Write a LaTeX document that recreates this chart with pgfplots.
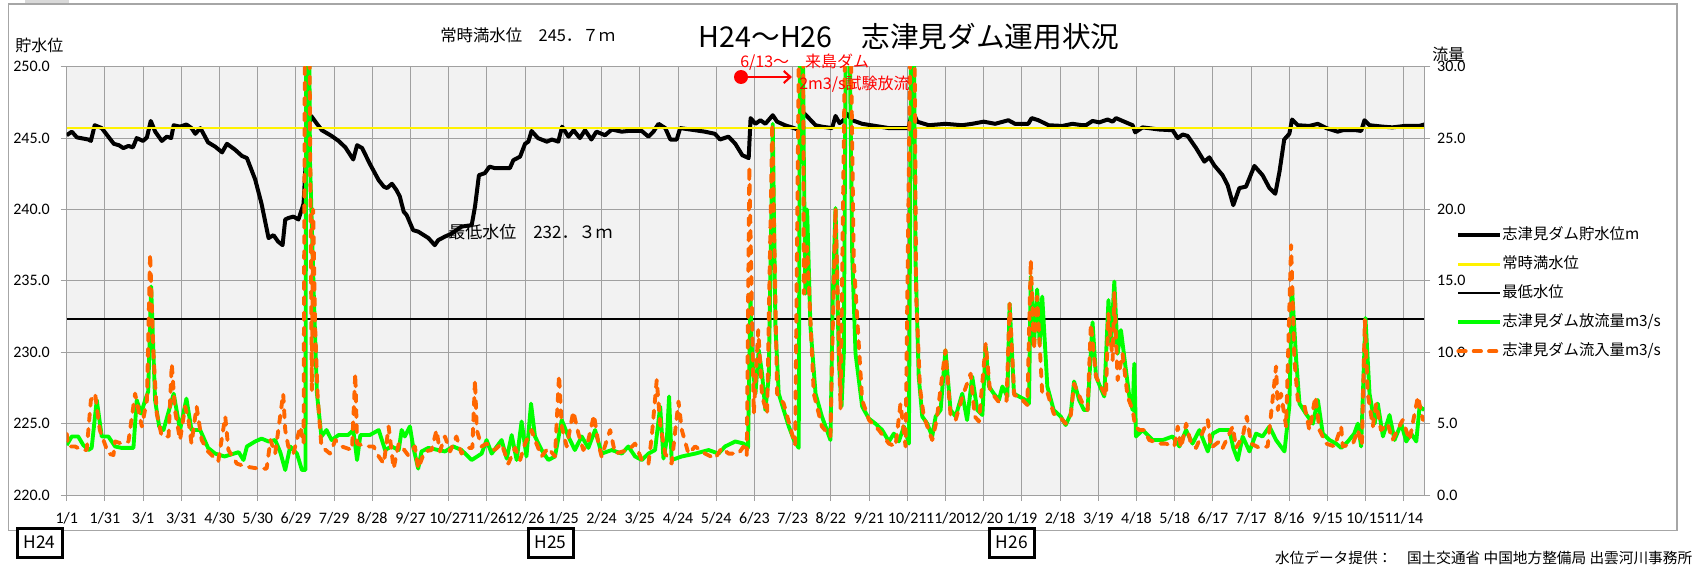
\documentclass[border=0pt]{standalone}
\usepackage{fontspec}
\setmainfont{Carlito}
\newfontfamily\jp{Noto Sans CJK JP}
\usepackage{pgfplots}
\usepackage{pgfplotstable}
\pgfplotsset{compat=1.18}
\usetikzlibrary{arrows.meta}
\definecolor{bgGray}{HTML}{F2F2F2}
\definecolor{gridGray}{HTML}{A0A0A0}
\definecolor{flowGreen}{HTML}{00FF00}
\definecolor{flowOrange}{HTML}{FF6600}
\definecolor{frameGray}{HTML}{A6A6A6}

\pgfplotstableread{
d v
0 245.2
4 245.45
8 245.05
17 244.9
19 244.8
22 245.9
27.5 245.7
37 244.6
41 244.5
44.5 244.3
48.5 244.45
52 244.35
55 245.0
60 244.8
63 245.05
66 246.2
69.5 245.45
74.7 244.8
78.6 245.1
82 245.0
84 245.9
89 245.8
94 245.95
98 245.7
101 245.3
105 245.7
111 244.7
116.6 244.4
122 244.0
125.8 244.6
132 244.2
137.6 243.75
141.5 243.6
148 242.1
153 240.4
158.5 238.0
162.4 238.2
166 237.75
169.5 237.5
171.6 239.3
174 239.4
178 239.5
182 239.3
186 240.4
187.8 243.5
190 245.8
192 246.55
196.5 246.0
200.4 245.55
208 245.15
213.5 244.8
218.8 244.35
225 243.5
228 244.5
232 244.3
238 243.2
245 242.05
249 241.6
251.5 241.5
255.4 241.8
259 241.35
261.6 240.9
264.6 239.85
267 239.6
272 238.55
276 238.45
284 238.0
289 237.5
291.7 237.85
297 238.1
302 238.3
310 238.8
318 238.9
320.6 240.2
323.7 242.4
328.4 242.55
332 243.0
336 242.9
348 242.9
350.7 243.45
356 243.7
359.9 244.6
362.5 244.75
365 245.5
370 245.0
377 244.75
381 244.9
386 244.75
389 245.8
394 245.1
398 245.55
403 245.0
407 245.55
412 244.9
416 245.45
422.7 245.2
428 245.6
435.8 245.45
441 245.5
451.5 245.5
456.8 245.1
460.7 245.45
464.7 246.0
470 245.7
474 244.9
479 244.9
481.7 245.7
493.5 245.55
501 245.45
509 245.3
513 244.9
519.7 245.1
525 244.6
530.5 243.8
535.5 243.6
537 246.4
540.8 246.0
544.7 246.25
548.6 246.0
551 246.25
554.4 246.6
557.8 246.15
564 245.9
571 245.7
575.4 245.55
578.8 246.75
582.7 246.4
588 245.9
593 245.8
601 245.7
603.7 246.55
606.8 246.05
610 246.25
612.8 246.7
616.8 246.25
624.6 246.0
635 245.85
645.6 245.7
656 245.7
661 245.7
664 246.95
667.8 246.15
677 245.9
690 246.0
703 245.9
711 246.0
720 246.15
729 246.0
739.4 246.25
744.6 246.0
755 246.0
757.7 246.4
763 246.25
771 245.9
781.8 245.85
789.7 246.0
797.5 245.9
800.3 245.9
805.5 246.2
810.8 246.1
817.3 246.3
821.3 246.15
823.9 246.4
830.4 246.15
837 245.9
839 245.4
844.8 245.75
858 245.6
868.4 245.55
872.4 245.0
876.3 245.25
880.2 245.15
886.8 244.3
893.3 243.35
897.2 243.65
901 243.1
907.6 242.4
911.6 241.7
916 240.3
920.8 241.5
926 241.6
932.6 243.05
939 242.4
944.4 241.5
949 241.1
952.3 242.65
956 244.9
960 245.3
962.2 246.3
966.7 245.9
975.8 245.85
982.4 246.0
989 245.7
998 245.45
1002 245.55
1012.5 245.55
1016.4 245.5
1019 246.25
1023 245.9
1033.5 245.8
1041 245.75
1050.5 245.85
1062 245.85
1066 245.95
}\levtab

\pgfplotstableread{
d v
0 3.5
4 4.1
9 4.1
13 3.5
17 3.15
19.6 3.3
23.6 6.65
27.5 4.1
32.7 4.1
38 3.4
43 3.3
52.4 3.3
55 6.65
58.4 5.7
61.6 6.65
64 7.25
66.3 14.6
69.4 6.65
72.6 4.8
76 4.55
84 7.1
89 4.55
94 6.75
98 4.55
104.8 4.55
111 3.3
116.6 2.9
124 2.7
135 3.0
138.8 2.45
141.5 3.4
148 3.75
153 3.95
158.5 3.75
163.7 3.85
167.7 3.0
171.6 1.75
175.5 3.4
180.8 2.9
184.7 1.75
187.5 1.75
188.2 40
190 40
191 23.5
194 14.1
196.5 7.1
200 4.1
204 4.55
208 3.85
213.5 4.2
221 4.2
225 4.55
228 2.45
230.6 4.2
238 4.2
245 4.55
250 3.15
255 3.4
260.7 3.15
263 4.55
265.5 4.1
269.5 4.8
272 3.4
276 1.85
278.6 3.05
284 3.3
297 3.05
303.5 3.4
310 3.15
318 2.45
325.8 2.9
329.7 3.85
333.7 2.9
341.5 3.85
345.5 2.55
349.4 4.2
353.3 2.45
357.2 5.15
361 2.7
364.6 6.4
367.7 4.1
372.9 3.15
378.2 2.45
383.4 2.7
388.7 5.25
393.9 4.1
399 3.15
404.4 4.1
409.6 3.3
414.9 4.55
420 2.9
428 3.15
435.8 2.9
441 3.4
446.3 2.7
451.6 2.45
456.8 2.9
462 3.15
466 6.2
468.6 2.55
471.2 3.85
473 6.9
475 2.45
483 2.7
493.5 2.9
504 3.15
511.8 2.9
517 3.4
525 3.75
531.6 3.6
535 3.3
536.9 14.1
538.2 9.45
540.8 7.1
543.4 10.15
546 8.5
548.6 5.95
551.3 8.3
554.4 26
556.5 11.8
559.1 7.1
563 5.95
567 4.8
571 3.85
574.8 3.3
576 40
577.5 38
578.8 23.5
580 14.1
581.4 20
584 11.8
588 7.1
593 5.5
599.7 3.85
601.6 14.1
603.7 20.1
606.3 9.45
608.4 6.2
610.2 9.9
612.3 40
614 38
616.8 16.7
619.4 9.9
624.6 6.2
629.9 5.35
635 5.0
640.3 4.55
645.6 3.75
649.5 4.3
653.4 3.75
657.4 4.8
661.3 3.6
663.5 40
665 35
666.5 16.4
669 8.3
671.8 5.5
675.7 5.0
679.6 4.1
682.3 5.5
686.2 5.95
690 10.15
694 5.95
698 5.5
703.2 7.1
707 5.25
711 8.3
715 5.95
719 5.6
721.6 10.4
724.2 7.6
728 7.1
732 6.65
734.7 7.6
738.6 6.9
740.4 13.4
743.8 7.1
747.8 6.9
753 6.65
755.6 6.4
757 15.3
759.5 10.6
762 14.4
764 10.6
766 13.9
770 7.6
775 5.95
780.5 5.5
784.4 4.9
788.4 5.7
791 7.95
795 6.65
798.8 5.95
801.6 5.95
805.5 12.1
808.2 8.3
812.1 7.45
814.7 6.9
818 13.65
820 10.6
822.6 14.95
825.2 9.9
827.8 11.55
831.7 8.75
834.4 6.9
837 5.95
838.3 9.2
839.6 4.1
844.8 4.55
852.7 3.85
860.6 3.85
868.4 4.1
873.7 3.4
878.9 4.55
884 3.6
889.4 4.55
896 3.05
899.9 4.3
905 4.55
913 4.55
916 3.3
919.5 2.45
923.4 4.1
928.7 3.05
933.9 4.3
939 4.1
944.4 4.8
949.6 3.85
956.2 3.05
960 6.2
962.2 14.35
965.4 9.45
968 6.4
973 5.7
978.5 5.0
982.4 6.65
986.3 4.3
991.6 3.85
996.8 3.6
1000.7 3.3
1006 3.75
1011 4.3
1013.8 5.0
1016.4 3.4
1019.8 12.4
1023 7.1
1027 5.0
1029.5 6.4
1033.5 4.1
1038.7 5.6
1042.6 3.85
1047.9 5.0
1051.8 3.75
1055.7 4.3
1059.7 3.75
1062.3 6.2
1066 5.95
}\outtab

\pgfplotstableread{
d v
0 4.3
1.3 3.4
6.5 3.4
11.8 3.15
15.7 3.15
19 6.65
22.3 7.1
26 4.55
32.7 2.9
36.7 2.8
38 3.75
43 3.6
48.5 3.75
53.7 7.1
59 4.8
63 6.65
65.5 16.9
68 10.15
70.7 5.7
74.7 4.1
80 4.1
82.5 9.2
85 5.95
89 3.85
93 6.2
95.6 5.25
98 3.6
102 6.2
106 3.85
111 3.05
119 2.35
124.5 5.5
127 3.15
133.6 2.2
140 2.0
150.6 1.85
157 1.85
160 3.85
163.7 2.9
170 7.1
171.6 4.55
174 3.4
178 2.9
183.4 4.8
186 3.6
187.3 40
190 40
191.5 20
192.5 7.35
193.5 20
195 12
197 7
200 3.4
206.7 2.9
211 3.85
216 3.4
224 3.15
226.6 8.5
228 3.6
234.5 3.4
241 3.4
245 2.7
249 2.2
252.8 4.8
256.7 1.85
260.7 3.6
263 3.4
268 2.8
273.4 3.4
276 1.85
281 3.05
286.5 3.15
290.4 4.55
293 3.05
297 4.1
301 3.05
306 4.1
310 2.9
314 3.3
318.5 3.3
320.6 8.05
322 4.55
325.8 3.4
329.7 3.6
336 3.15
341.5 3.6
346.8 2.2
352 3.3
356 2.45
359.9 3.6
365 4.55
367.7 3.85
372.9 2.7
378 3.3
383.4 2.7
386.6 8.4
388.7 4.8
392.6 3.4
397.8 5.85
401.8 4.3
405.7 3.15
409.6 3.85
414 5.6
417.5 3.6
420 2.7
426.7 4.55
430.6 2.9
441 3.15
446.3 3.6
451.6 2.45
456.8 2.2
459.4 4.1
463.3 8.05
466 5.0
469.9 2.9
475 2.2
480.4 6.55
483 4.55
488.2 2.9
493.5 3.4
501.3 2.9
509 2.55
514.4 3.3
519.7 2.9
527.5 2.9
531.5 3.4
534 2.8
536 23
539.5 5.7
543 11.55
546 6.9
550 5.7
554 26
557.8 7.1
563 6.4
572 3.5
575.8 40
578 40
578.8 14.1
581.4 17.4
586.6 7.1
593 4.8
599.7 4.1
601.6 12
603.7 20.1
607.6 6.05
612.3 40
614.5 40
618 16.4
624.6 6.65
630 5.25
637.7 4.55
645.6 3.6
650.8 3.4
654.7 6.4
658.7 3.4
663.5 40
665.2 40
667 14
670 7.5
673 5.5
679.6 3.85
683 5.2
690 10.15
694 5.6
698 5.25
703 6.8
709.8 8.5
713 5.5
716.3 5.15
721.6 10.6
725 7.3
732 6.5
738 6.6
740.4 13.4
744 7.0
747.8 6.9
754.3 6.3
757 16.45
759.5 10.15
762 13.9
766 7.1
770 7.2
775 5.7
780.5 5.4
784.4 5.0
788.4 5.6
791 7.8
797.7 6.4
801.6 5.95
804.2 12.0
808.2 8.3
812.1 7.6
816 6.9
817.9 12.7
821.3 9.45
822.6 14.2
825.2 8.05
829.1 9.9
833 6.9
837 5.95
839 4.8
842.2 4.55
846 4.55
850 3.85
858 3.6
863 3.6
869.7 3.4
872.4 4.8
875 3.3
879 5.0
882.8 3.6
886.8 3.3
896 5.25
898.5 3.3
905 3.75
907.7 3.3
915.6 4.8
918.2 3.3
923.4 4.1
926.6 5.5
930 3.6
936.5 3.3
943 3.4
949.6 9.0
951 5.95
953.5 7.1
957.5 4.8
961.4 17.5
964 9.45
966.7 6.65
972 6.2
975.8 4.55
980.5 6.9
983.7 4.55
989 3.6
995.5 3.4
1000.7 4.8
1002 3.4
1010 3.6
1013.8 4.55
1017 3.5
1019.3 12.25
1021.6 7.1
1025.6 4.8
1028.2 6.4
1032 4.55
1037.2 5.0
1041 3.85
1049 5.25
1054.4 3.85
1061 6.9
1064.9 5.25
}\intab

\begin{document}
\begin{tikzpicture}
\begin{scope}[x=0.75pt,y=-0.75pt]
  \fill[black!15] (25,0) rectangle (69,4);
  \draw[frameGray, line width=0.9pt] (8.4,4) rectangle (1677,530.7);
\end{scope}

\begin{axis}[
  at={(50.025pt,-371.25pt)}, anchor=south west,
  scale only axis, width=1018.2pt, height=321.225pt,
  xmin=0, xmax=1066, ymin=220, ymax=250,
  xtick={0,30,...,1050},
  xticklabels={1/1,1/31,3/1,3/31,4/30,5/30,6/29,7/29,8/28,9/27,10/27,11/26,12/26,1/25,2/24,3/25,4/24,5/24,6/23,7/23,8/22,9/21,10/21,11/20,12/20,1/19,2/18,3/19,4/18,5/18,6/17,7/17,8/16,9/15,10/15,11/14},
  ytick={220,225,...,250},
  /pgf/number format/assume math mode=true,
  yticklabel style={/pgf/number format/fixed, /pgf/number format/fixed zerofill, /pgf/number format/precision=1, inner sep=0pt, anchor=east, xshift=-8pt},
  xticklabel style={inner sep=0pt, anchor=north, yshift=-8pt},
  tick label style={font=\fontsize{12}{14}\selectfont},
  axis background/.style={fill=bgGray},
  grid=major, grid style={gridGray, line width=0.75pt},
  axis line style={gridGray, line width=0.75pt},
  tick style={gridGray, line width=0.75pt},
  tick align=outside, major tick length=4.5pt,
  tick pos=left,
]
\addplot[black, line width=3pt, line join=round] table[x=d,y=v] {\levtab};
\addplot[yellow, line width=1.9pt] coordinates {(0,245.7) (1066,245.7)};
\addplot[black, line width=1.5pt] coordinates {(0,232.3) (1066,232.3)};
\end{axis}

\begin{axis}[
  at={(50.025pt,-371.25pt)}, anchor=south west,
  scale only axis, width=1018.2pt, height=321.225pt,
  xmin=0, xmax=1066, ymin=0, ymax=30,
  axis x line=none, axis y line*=right,
  ytick={0,5,...,30},
  /pgf/number format/assume math mode=true,
  yticklabel style={/pgf/number format/fixed, /pgf/number format/fixed zerofill, /pgf/number format/precision=1, inner sep=0pt, anchor=west, xshift=5pt},
  tick label style={font=\fontsize{12}{14}\selectfont},
  axis line style={gridGray, line width=0.75pt},
  tick style={gridGray, line width=0.75pt},
  tick align=outside, major tick length=4.5pt,
  legend image code/.code={\draw[#1] (0pt,0pt) -- (31.5pt,0pt);},
  legend style={draw=none, fill=none, at={(axis description cs:1.0234,0.6257)}, anchor=north west,
    font=\jp\fontsize{11.5}{13}\selectfont, row sep=9.75pt, inner sep=0pt,
    nodes={inner sep=0pt, text height=9pt, text depth=3pt}},
  legend cell align=left,
]
\addlegendimage{black, line width=3pt}
\addlegendentry{志津見ダム貯水位m}
\addlegendimage{yellow, line width=1.9pt}
\addlegendentry{常時満水位}
\addlegendimage{black, line width=1.5pt}
\addlegendentry{最低水位}
\addplot[flowGreen, line width=2.9pt, line join=round] table[x=d,y=v] {\outtab};
\addlegendentry{志津見ダム放流量m3/s}
\addplot[flowOrange, line width=2.9pt, line join=round, line cap=round, dash pattern=on 5.5pt off 6pt] table[x=d,y=v] {\intab};
\addlegendentry{志津見ダム流入量m3/s}
\end{axis}

\begin{scope}[x=0.75pt,y=-0.75pt]
  \node[anchor=west, inner sep=0pt, font=\jp\fontsize{12}{14}\selectfont] at (15,45) {貯水位};
  \node[anchor=west, inner sep=0pt, font=\jp\fontsize{12}{14}\selectfont] at (1432,54) {流量};
  \node[anchor=west, inner sep=0pt, font=\jp\fontsize{12.3}{14}\selectfont] at (440,35) {常時満水位　245．７ｍ};
  \node[inner sep=0pt, font=\jp\fontsize{21.5}{24}\selectfont] at (909,37) {H24～H26　志津見ダム運用状況};
  \node[anchor=west, inner sep=0pt, font=\jp\fontsize{12.75}{14}\selectfont] at (448,232) {最低水位　232．３ｍ};
  \fill[red] (741,77) circle (5.25pt);
  \draw[red, line width=1.6pt, -{Straight Barb[length=5pt,width=9pt]}] (741,77) -- (792,77);
  \node[anchor=west, inner sep=0pt, text=red, font=\jp\fontsize{12}{14}\selectfont] at (740,62) {6/13～　来島ダム};
  \node[anchor=west, inner sep=0pt, text=red, font=\jp\fontsize{12}{14}\selectfont] at (799,84) {2m3/s試験放流};
  \foreach \a/\b/\t in {17/62/H24, 528/573/H25, 989.6/1034/H26}{
    \draw[black, line width=2.25pt, fill=white] (\a,528) rectangle (\b,557);
    \node[inner sep=0pt, font=\jp\fontsize{13}{14}\selectfont] at ({(\a+\b)/2},542.5) {\t};
  }
  \node[anchor=east, inner sep=0pt, font=\jp\fontsize{11}{13}\selectfont] at (1692.5,558) {水位データ提供：　国土交通省 中国地方整備局 出雲河川事務所};
\end{scope}
\pgfresetboundingbox
\path[use as bounding box] (0,0) rectangle (1269.75pt,-425.25pt);
\end{tikzpicture}
\end{document}
